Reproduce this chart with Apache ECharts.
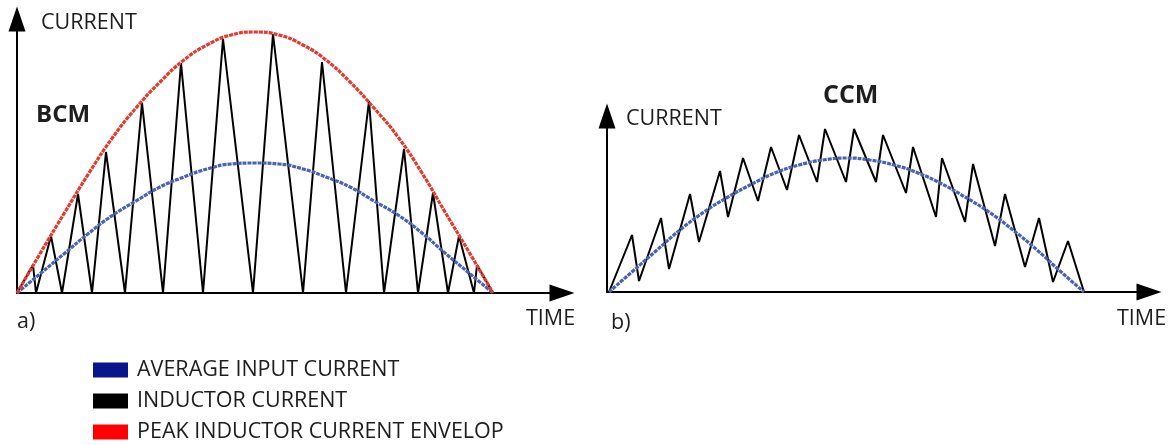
<!DOCTYPE html>
<html>
<head>
<meta charset="utf-8">
<script src="https://cdn.jsdelivr.net/npm/echarts@6/dist/echarts.min.js"></script>
<style>
html,body{margin:0;padding:0;background:#fff;}
#c{width:1173px;height:445px;}
</style>
</head>
<body>
<div id="c"></div>
<script>
// ---- BCM panel (time units / current units) ----
const bcmInductorT = [0,16,19,34,45,61,75,89,108,125,146,164,186,206,236,256,286,305,329,352,367,387,401,416,431,442,457,460,476];
const bcmInductorI = [0,28,0,57,0,99,0,141,0,190,0,230,0,254,0,259,0,231,0,192,0,144,0,100,0,57,0,28,0];
const bcmPeakT = [0,24,48,72,96,119,143,167,190,214,238,262,286,309,333,357,381,405,428,452,476];
const bcmPeakI = [0,41,81,120,156,185,211,233,248,258,261,258,248,233,211,185,156,120,81,41,0];
const bcmAvgT = [0,24,48,72,96,119,143,167,190,214,238,262,286,309,333,357,381,405,428,452,476];
const bcmAvgI = [0,20,40,60,78,92,106,116,124,129,130,129,124,116,106,92,78,60,40,20,0];
// ---- CCM panel ----
const ccmInductorT = [2,25,32,54,62,83,92,113,121,136,151,164,180,192,210,218,239,247,269,276,299,306,329,335,358,366,388,398,418,432,446,461,477];
const ccmInductorI = [0,57,11,74,23,98,50,121,75,134,91,145,102,157,110,163,110,163,110,157,99,145,75,134,70,128,46,98,25,74,10,51,0];
const ccmAvgT = [2,26,50,73,97,121,145,168,192,216,240,263,287,311,335,358,382,406,430,453,477];
const ccmAvgI = [0,21,42,62,80,95,108,119,127,132,134,132,127,119,108,95,80,62,42,21,0];
// ---- labels ----
const legendNames = ['AVERAGE INPUT CURRENT','INDUCTOR CURRENT','PEAK INDUCTOR CURRENT ENVELOP'];
const legendColors = ['#0a148c','#000000','#ff0000'];
const axisYLabel = 'CURRENT';
const axisXLabel = 'TIME';

const zip = (a,b) => a.map((v,i)=>[v,b[i]]);
const FONT = '"Open Sans", sans-serif';
const TXT = '#1e1e1e';

function axisPair(idx, xmax, ymax){
  const line = {show:true, onZero:false, symbol:['none','triangle'], symbolSize:[17,25],
    lineStyle:{color:'#000', width:2}};
  return {
    x:{type:'value', gridIndex:idx, min:0, max:xmax, axisLine:line, axisTick:{show:false},
       axisLabel:{show:false}, splitLine:{show:false}},
    y:{type:'value', gridIndex:idx, min:0, max:ymax, axisLine:line, axisTick:{show:false},
       axisLabel:{show:false}, splitLine:{show:false}}
  };
}
const a0 = axisPair(0, 545, 274);
const a1 = axisPair(1, 542, 176);

const inductorStyle = {color:'#000', width:2};
const avgStyle = {color:'#4a62b2', width:3.2, type:[4,1]};
const peakStyle = {color:'#e6392f', width:3.2, type:[4,1]};

function txt(text, x, y, size, bold){
  return {type:'text', silent:true, style:{text, x, y, fill:TXT, fontSize:size,
    fontFamily:FONT, fontWeight: bold ? 'bold' : 'normal', align:'left', verticalAlign:'middle'}};
}

const chart = echarts.init(document.getElementById('c'), null, {renderer:'canvas'});
chart.setOption({
  animation:false,
  backgroundColor:'#ffffff',
  grid:[
    {left:17, top:19, width:545, height:274},
    {left:607, top:116, width:542, height:176}
  ],
  xAxis:[a0.x, a1.x],
  yAxis:[a0.y, a1.y],
  legend:{
    orient:'vertical', left:93, top:359, padding:0, itemGap:9,
    itemWidth:35, itemHeight:15, selectedMode:false,
    textStyle:{fontSize:21.5, fontFamily:FONT, color:TXT, lineHeight:22, padding:[0,0,0,4]},
    data: legendNames.map((n,i)=>({name:n, icon:'rect', itemStyle:{color:legendColors[i]}}))
  },
  series:[
    {name:legendNames[1], type:'line', xAxisIndex:0, yAxisIndex:0, data:zip(bcmInductorT,bcmInductorI),
     showSymbol:false, lineStyle:inductorStyle, itemStyle:{color:'#000'}, z:2},
    {name:legendNames[0], type:'line', xAxisIndex:0, yAxisIndex:0, data:zip(bcmAvgT,bcmAvgI),
     smooth:true, showSymbol:false, lineStyle:avgStyle, itemStyle:{color:legendColors[0]}, z:3},
    {name:legendNames[2], type:'line', xAxisIndex:0, yAxisIndex:0, data:zip(bcmPeakT,bcmPeakI),
     smooth:true, showSymbol:false, lineStyle:peakStyle, itemStyle:{color:legendColors[2]}, z:4},
    {name:legendNames[1], type:'line', xAxisIndex:1, yAxisIndex:1, data:zip(ccmInductorT,ccmInductorI),
     showSymbol:false, lineStyle:inductorStyle, itemStyle:{color:'#000'}, z:2},
    {name:legendNames[0], type:'line', xAxisIndex:1, yAxisIndex:1, data:zip(ccmAvgT,ccmAvgI),
     smooth:true, showSymbol:false, lineStyle:avgStyle, itemStyle:{color:legendColors[0]}, z:3}
  ],
  graphic:[
    txt(axisYLabel, 41, 23, 21.5, false),
    txt('BCM', 36, 115.5, 24, true),
    txt('a)', 17, 322, 21.5, false),
    txt(axisXLabel, 526, 318.5, 21.5, false),
    txt('CCM', 823, 96, 25, true),
    txt(axisYLabel, 626, 118.5, 21.5, false),
    txt('b)', 611, 323, 21.5, false),
    txt(axisXLabel, 1117, 318.5, 21.5, false)
  ]
});
</script>
</body>
</html>
